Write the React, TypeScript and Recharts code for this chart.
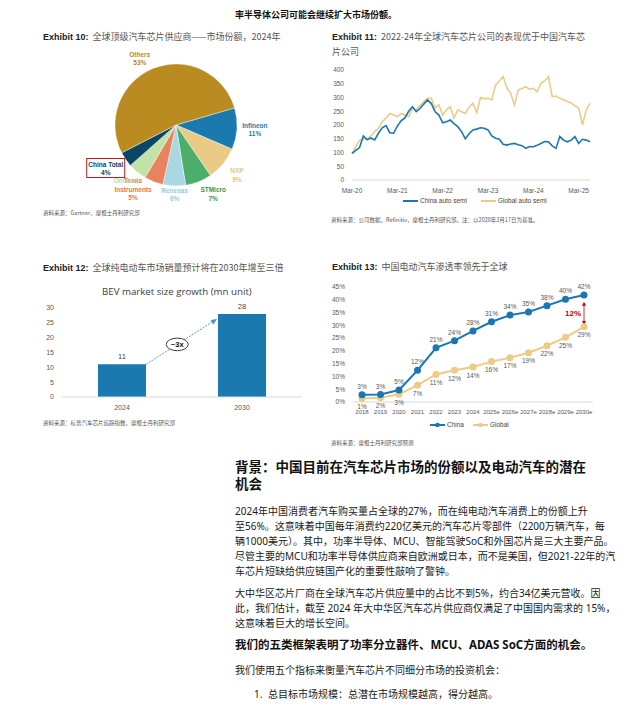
import React from 'react';
import { PieChart, Pie, Cell, LineChart, Line, XAxis, YAxis, BarChart, Bar, LabelList, ReferenceLine } from 'recharts';

// Exhibit 10 - pie
const pieNames = ['Infineon', 'NXP', 'STMicro', 'Renesas', 'Texas Instruments', 'Onsemi', 'China Total', 'Others'];
const pieShares = [11, 9, 7, 6, 5, 5, 4, 53];
const pieColors = ['#1A7AB0', '#EACB85', '#4BAE6B', '#A9D8E2', '#E8825F', '#C2E2A6', '#0D4566', '#B98B20'];
const pieTextColors = ['#1A7AB0', '#E6C47A', '#2F9A55', '#94CCDA', '#E8754F', '#B5DC98', '#0D4566', '#B98B20'];

// Exhibit 11 - China vs Global auto semi index (monthly, Mar-20 .. Jun-25)
const chinaSemi = [
  97, 108, 118, 160, 146, 153, 146, 170, 190, 198, 172, 170,
  196, 215, 226, 250, 266, 249, 260, 276, 291, 278, 248, 236,
  208, 212, 218, 205, 194, 176, 150, 168, 182, 185, 190, 188,
  182, 160, 152, 148, 130, 127, 131, 133, 128, 125, 115, 122,
  121, 126, 133, 140, 139, 124, 115, 158, 145, 139, 145, 158,
  133, 148, 145, 139,
];
const globalSemi = [
  97, 120, 145, 148, 152, 160, 176, 188, 212, 225, 242, 236,
  230, 242, 236, 230, 261, 255, 270, 285, 297, 297, 261, 273,
  236, 255, 267, 225, 255, 248, 242, 265, 279, 245, 300, 295,
  297, 291, 345, 360, 376, 334, 315, 273, 327, 333, 339, 330,
  333, 321, 352, 360, 376, 303, 305, 297, 292, 285, 280, 270,
  262, 200, 255, 279,
];
const monthNames = ['Jan', 'Feb', 'Mar', 'Apr', 'May', 'Jun', 'Jul', 'Aug', 'Sep', 'Oct', 'Nov', 'Dec'];
const semiTicks = [0, 50, 100, 150, 200, 250, 300, 350, 400];
const semiData = chinaSemi.map((c, i) => {
  const m = (2 + i) % 12;
  const yr = 20 + Math.floor((2 + i) / 12);
  return { month: `${monthNames[m]}-${yr}`, china: c, global: globalSemi[i] };
});

// Exhibit 12 - BEV market size
const bevYears = ['2024', '2030'];
const bevUnits = [11, 28];
const bevTicks = [0, 5, 10, 15, 20, 25, 30];
const bevData = bevYears.map((y, i) => ({ year: y, units: bevUnits[i] }));

// Exhibit 13 - EV penetration
const evYears = ['2018', '2019', '2020', '2021', '2022', '2023', '2024', '2025e', '2026e', '2027e', '2028e', '2029e', '2030e'];
const evChina = [2.8, 2.9, 4.7, 12.4, 21.2, 24, 27.8, 31.4, 34, 35.2, 37.7, 40.2, 41.9];
const evGlobal = [1.4, 1.7, 3, 6.6, 10.8, 12.4, 13.7, 15.8, 17.3, 19.3, 22, 25.3, 29.4];
const evTicks = [0, 5, 10, 15, 20, 25, 30, 35, 40, 45];
const evData = evYears.map((y, i) => ({ year: y, china: evChina[i], global: evGlobal[i] }));

const BLUE = '#1B77B3';
const GOLD = '#EDCB87';
const CJK = '"Noto Sans CJK SC", sans-serif';
const BODY = '"Noto Sans", "Noto Sans CJK SC", sans-serif';
const ARIAL = '"Liberation Sans", Arial, sans-serif';

const labelNudge: Record<string, [number, number]> = {
  Others: [-7, 7],
  STMicro: [8, -4],
  Renesas: [1, -9],
  'Texas Instruments': [-14, -9],
  Onsemi: [0, -5],
  'China Total': [-5, -1],
};

const renderPieLabel = (props: any) => {
  const { cx, cy, midAngle, outerRadius, index } = props;
  const RAD = Math.PI / 180;
  const r = outerRadius + 18;
  const name = pieNames[index];
  const nudge = labelNudge[name] || [0, 0];
  const x = cx + r * Math.cos(-midAngle * RAD) + nudge[0];
  const y = cy + r * Math.sin(-midAngle * RAD) + nudge[1];
  let lines = [name, `${pieShares[index]}%`];
  if (name === 'Texas Instruments') lines = ['Texas', 'Instruments', `${pieShares[index]}%`];
  if (name === 'Onsemi') lines = ['Onsemi'];
  const lh = 8.5;
  const top = y - ((lines.length - 1) * lh) / 2;
  return (
    <g>
      {name === 'China Total' && (
        <rect x={x - 19} y={y - 10} width={38} height={19} fill="none" stroke="#C00000" strokeWidth={0.9} />
      )}
      {lines.map((t, k) => (
        <text key={k} x={x} y={top + k * lh} dy="0.35em" textAnchor="middle"
          fontSize={6.5} fontWeight={700} fontFamily={ARIAL} fill={pieTextColors[index]}>{t}</text>
      ))}
    </g>
  );
};

const BevArrow = (props: any) => {
  const { x1, y1, x2, y2 } = props;
  if (x1 == null || x2 == null) return null;
  const half = (x2 - x1) * 0.2;
  const sx = x1 + half;
  const ex = x2 - half - 1;
  const dx = ex - sx;
  const dy = y2 - y1;
  const len = Math.sqrt(dx * dx + dy * dy);
  const ux = dx / len;
  const uy = dy / len;
  const ah = 6;
  const aw = 2.6;
  const bx = ex - ux * ah;
  const by = y2 - uy * ah;
  const t = 0.44;
  const mx = sx + dx * t;
  const my = y1 + dy * t;
  return (
    <g>
      <line x1={sx} y1={y1} x2={bx} y2={by} stroke="#4A8FC7" strokeWidth={0.9} strokeDasharray="2 1.2" />
      <polygon points={`${ex},${y2} ${bx - uy * aw},${by + ux * aw} ${bx + uy * aw},${by - ux * aw}`} fill="#4A8FC7" />
      <ellipse cx={mx} cy={my} rx={11} ry={6.3} fill="#fff" stroke="#111" strokeWidth={0.8} />
      <text x={mx} y={my} dy="0.35em" textAnchor="middle" fontSize={7.5} fontWeight={700} fontFamily={ARIAL} fill="#111">~3x</text>
    </g>
  );
};

const GapArrow = (props: any) => {
  const { x1, y1, x2, y2 } = props;
  if (x1 == null) return null;
  const c = '#C00000';
  return (
    <g>
      <line x1={x1} y1={y1 + 3} x2={x2} y2={y2 - 3} stroke={c} strokeWidth={0.8} />
      <polygon points={`${x1},${y1} ${x1 - 2},${y1 + 4} ${x1 + 2},${y1 + 4}`} fill={c} />
      <polygon points={`${x2},${y2} ${x2 - 2},${y2 - 4} ${x2 + 2},${y2 - 4}`} fill={c} />
      <text x={x1 - 11} y={(y1 + y2) / 2} dy="0.35em" textAnchor="middle" fontSize={8} fontWeight={700} fontFamily={ARIAL} fill={c}>12%</text>
    </g>
  );
};

const Txt = ({ x, y, size, style, children }: any) => (
  <div style={{ position: 'absolute', left: x, top: y - size * 0.7, fontSize: size, lineHeight: `${size * 1.4}px`, whiteSpace: 'nowrap', ...style }}>
    {children}
  </div>
);

const Title = ({ x, y, num, children }: any) => (
  <Txt x={x} y={y} size={9} style={{ color: '#555', fontFamily: CJK }}>
    <span style={{ fontFamily: ARIAL, fontWeight: 700, color: '#222' }}>Exhibit {num}:</span>
    <span style={{ marginLeft: 4 }}>{children}</span>
  </Txt>
);

const Source = ({ x, y, children }: any) => (
  <Txt x={x} y={y} size={5.5} style={{ color: '#555', fontFamily: CJK }}>{children}</Txt>
);

const tickStyle = { fontSize: 6.5, fill: '#595959', fontFamily: ARIAL };

const p1 = [
  '2024年中国消费者汽车购买量占全球的27%，而在纯电动汽车消费上的份额上升',
  '至56%。这意味着中国每年消费约220亿美元的汽车芯片零部件（2200万辆汽车，每',
  '辆1000美元）。其中，功率半导体、MCU、智能驾驶SoC和外国芯片是三大主要产品。',
  '尽管主要的MCU和功率半导体供应商来自欧洲或日本，而不是美国，但2021-22年的汽',
  '车芯片短缺给供应链国产化的重要性敲响了警钟。',
];
const p2 = [
  '大中华区芯片厂商在全球汽车芯片供应量中的占比不到5%，约合34亿美元营收。因',
  '此，我们估计，截至 2024 年大中华区汽车芯片供应商仅满足了中国国内需求的 15%，',
  '这意味着巨大的增长空间。',
];

export default function App() {
  const pieData = pieNames.map((n, i) => ({ name: n, value: pieShares[i] }));
  return (
    <div style={{ position: 'absolute', left: 0, top: 0, width: 637, height: 713, background: '#fff', overflow: 'hidden', color: '#1a1a1a' }}>
      <Txt x={235} y={15} size={9} style={{ fontFamily: CJK, fontWeight: 700, color: '#111' }}>率半导体公司可能会继续扩大市场份额。</Txt>

      {/* Exhibit 10 */}
      <Title x={43} y={37} num="10">全球顶级汽车芯片供应商——市场份额，2024年</Title>
      <div style={{ position: 'absolute', left: 20, top: 45 }}>
        <PieChart width={300} height={170} margin={{ top: 0, right: 0, bottom: 0, left: 0 }}>
          <Pie data={pieData} dataKey="value" cx={156} cy={80} outerRadius={61} startAngle={16.3} endAngle={-343.7}
            stroke="#fff" strokeWidth={0.4} label={renderPieLabel} labelLine={false} isAnimationActive={false}>
            {pieData.map((d, i) => <Cell key={d.name} fill={pieColors[i]} />)}
          </Pie>
        </PieChart>
      </div>
      <Source x={43} y={214}>资料来源：Gartner，摩根士丹利研究部</Source>

      {/* Exhibit 11 */}
      <Txt x={332} y={37} size={9} style={{ color: '#555', fontFamily: CJK }}>
        <span style={{ fontFamily: ARIAL, fontWeight: 700, color: '#222' }}>Exhibit 11:</span>
        <span style={{ marginLeft: 4 }}>2022-24年全球汽车芯片公司的表现优于中国汽车芯</span>
      </Txt>
      <Txt x={332} y={52} size={9} style={{ color: '#555', fontFamily: CJK }}>片公司</Txt>
      <div style={{ position: 'absolute', left: 320, top: 60 }}>
        <LineChart width={290} height={150} data={semiData} margin={{ top: 10, right: 20, bottom: 10, left: 0 }}>
          <XAxis dataKey="month" interval={11} height={20} tick={tickStyle} tickLine={false} axisLine={{ stroke: '#d9d9d9' }} />
          <YAxis width={32} domain={[0, 400]} ticks={semiTicks} tick={tickStyle} tickLine={false} axisLine={false} />
          <Line type="linear" dataKey="global" stroke={GOLD} strokeWidth={1.6} dot={false} isAnimationActive={false} />
          <Line type="linear" dataKey="china" stroke={BLUE} strokeWidth={1.6} dot={false} isAnimationActive={false} />
        </LineChart>
      </div>
      <div style={{ position: 'absolute', left: 403, top: 197, fontFamily: ARIAL, fontSize: 6.5, color: '#444', display: 'flex', alignItems: 'center', whiteSpace: 'nowrap' }}>
        <span style={{ display: 'inline-block', width: 15, height: 2, background: BLUE, marginRight: 2 }} />China auto semi
        <span style={{ display: 'inline-block', width: 15, height: 2, background: GOLD, marginLeft: 14, marginRight: 2 }} />Global auto semi
      </div>
      <Source x={331} y={221}>资料来源：公司数据，Refinitiv，摩根士丹利研究部。注：以2020年3月17日为基准。</Source>

      {/* Exhibit 12 */}
      <Title x={43} y={268} num="12">全球纯电动车市场销量预计将在2030年增至三倍</Title>
      <Txt x={102} y={292} size={9.7} style={{ fontFamily: '"Open Sans", sans-serif', color: '#404040' }}>BEV market size growth (mn unit)</Txt>
      <div style={{ position: 'absolute', left: 30, top: 300 }}>
        <BarChart width={280} height={115} data={bevData} margin={{ top: 8, right: 8, bottom: 0, left: 0 }} barCategoryGap="30%">
          <XAxis dataKey="year" height={18} tick={{ ...tickStyle, fontSize: 7 }} tickLine={false} axisLine={{ stroke: '#d9d9d9' }} />
          <YAxis width={32} domain={[0, 30]} ticks={bevTicks} tick={{ ...tickStyle, fontSize: 7 }} tickLine={false} axisLine={false} />
          <Bar dataKey="units" fill="#1A7AB0" isAnimationActive={false}>
            <LabelList dataKey="units" position="top" offset={5} style={{ fontSize: 7.5, fill: '#404040', fontFamily: ARIAL }} />
          </Bar>
          <ReferenceLine segment={[{ x: '2024', y: 11 }, { x: '2030', y: 26.3 }]} shape={BevArrow} ifOverflow="visible" />
        </BarChart>
      </div>
      <Source x={43} y={424}>资料来源：标普汽车芯片追踪指数，摩根士丹利研究部</Source>

      {/* Exhibit 13 */}
      <Title x={332} y={267} num="13">中国电动汽车渗透率领先于全球</Title>
      <div style={{ position: 'absolute', left: 325, top: 280 }}>
        <LineChart width={280} height={140} data={evData} margin={{ top: 7, right: 12, bottom: 0, left: 0 }}>
          <XAxis dataKey="year" interval={0} padding={{ left: 9, right: 9 }} height={18} tick={{ ...tickStyle, fontSize: 6 }} tickLine={false} axisLine={{ stroke: '#d9d9d9' }} />
          <YAxis width={28} domain={[0, 45]} ticks={evTicks} tickFormatter={(v: number) => `${v}%`} tick={tickStyle} tickLine={false} axisLine={false} />
          <Line type="linear" dataKey="global" stroke={GOLD} strokeWidth={2} dot={{ r: 2.5, fill: GOLD, stroke: GOLD }} isAnimationActive={false}>
            <LabelList dataKey="global" position="bottom" offset={6} formatter={(v: any) => `${Math.round(v)}%`} style={{ fontSize: 6.5, fill: '#595959', fontFamily: ARIAL }} />
          </Line>
          <Line type="linear" dataKey="china" stroke={BLUE} strokeWidth={2} dot={{ r: 2.5, fill: BLUE, stroke: BLUE }} isAnimationActive={false}>
            <LabelList dataKey="china" position="top" offset={6} formatter={(v: any) => `${Math.round(v)}%`} style={{ fontSize: 6.5, fill: '#595959', fontFamily: ARIAL }} />
          </Line>
          <ReferenceLine segment={[{ x: '2030e', y: 39.2 }, { x: '2030e', y: 30.1 }]} shape={GapArrow} ifOverflow="visible" />
        </LineChart>
      </div>
      <div style={{ position: 'absolute', left: 430, top: 421, fontFamily: ARIAL, fontSize: 6.5, color: '#444', display: 'flex', alignItems: 'center', whiteSpace: 'nowrap' }}>
        <svg width={15} height={6} style={{ marginRight: 2 }}><line x1={0} y1={3} x2={15} y2={3} stroke={BLUE} strokeWidth={2} /><circle cx={7.5} cy={3} r={2.3} fill={BLUE} /></svg>China
        <svg width={15} height={6} style={{ marginLeft: 9, marginRight: 2 }}><line x1={0} y1={3} x2={15} y2={3} stroke={GOLD} strokeWidth={2} /><circle cx={7.5} cy={3} r={2.3} fill={GOLD} /></svg>Global
      </div>
      <Source x={331} y={444}>资料来源：摩根士丹利研究部预测</Source>

      {/* Text */}
      <div style={{ position: 'absolute', left: 235, top: 457.5, fontFamily: CJK, fontWeight: 700, fontSize: 13.5, lineHeight: '17px', whiteSpace: 'nowrap', color: '#111' }}>
        <div>背景：中国目前在汽车芯片市场的份额以及电动汽车的潜在</div>
        <div>机会</div>
      </div>
      <div style={{ position: 'absolute', left: 235, top: 503.5, fontFamily: BODY, fontSize: 10, lineHeight: '15px', whiteSpace: 'nowrap' }}>
        {p1.map((l, i) => <div key={i}>{l}</div>)}
      </div>
      <div style={{ position: 'absolute', left: 235, top: 585.5, fontFamily: BODY, fontSize: 10, lineHeight: '15px', whiteSpace: 'nowrap' }}>
        {p2.map((l, i) => <div key={i}>{l}</div>)}
      </div>
      <Txt x={235} y={645} size={11.5} style={{ fontFamily: '"Noto Sans", "Noto Sans CJK SC", sans-serif', fontWeight: 700, color: '#111' }}>
        我们的五类框架表明了功率分立器件、MCU、ADAS SoC方面的机会。
      </Txt>
      <Txt x={235} y={670} size={10} style={{ fontFamily: BODY }}>我们使用五个指标来衡量汽车芯片不同细分市场的投资机会：</Txt>
      <Txt x={254} y={694} size={10} style={{ fontFamily: BODY }}>1.</Txt>
      <Txt x={268} y={694} size={10} style={{ fontFamily: BODY }}>总目标市场规模：总潜在市场规模越高，得分越高。</Txt>
    </div>
  );
}
